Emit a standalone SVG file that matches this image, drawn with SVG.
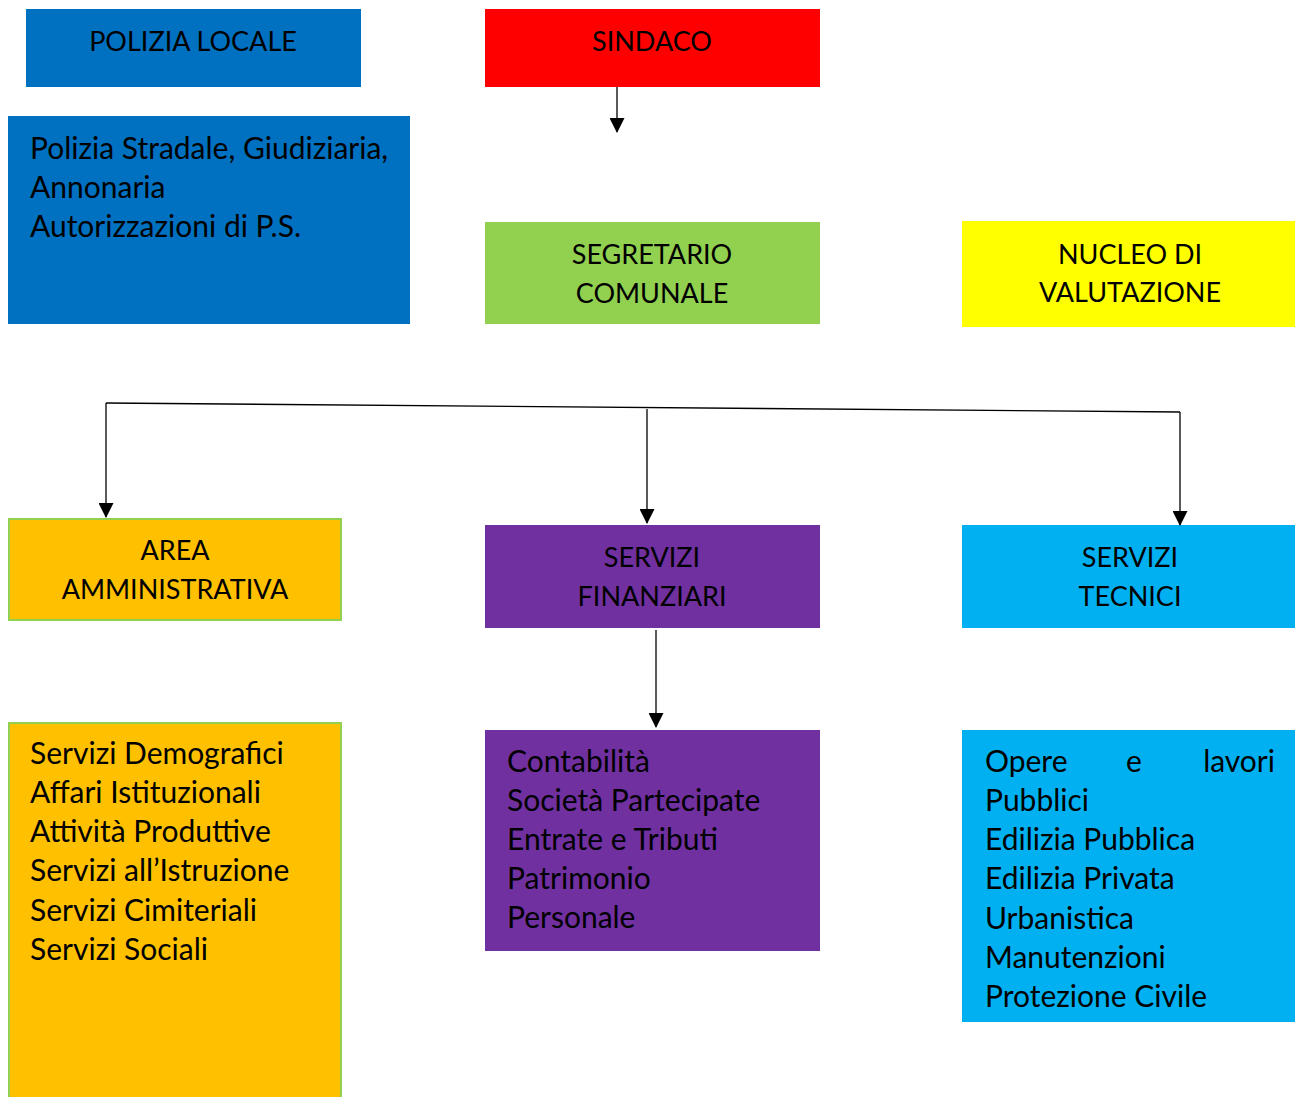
<svg xmlns="http://www.w3.org/2000/svg" width="1295" height="1097" viewBox="0 0 1295 1097">
<style>
text{font-family:Lato,"Open Sans","Liberation Sans",sans-serif;font-size:30px;fill:#000}
.c{text-anchor:middle;font-size:27px}
.ln{stroke:#000;stroke-width:1.3;fill:none}
</style>
<defs>
<marker id="arr" markerWidth="16" markerHeight="15" refX="14" refY="7.5" orient="auto" markerUnits="userSpaceOnUse">
<path d="M0,0 L15,7.5 L0,15 Z" fill="#000"/>
</marker>
</defs>
<rect width="1295" height="1097" fill="#fff"/>
<g id="polizia-locale">
<rect x="26" y="9" width="335" height="78" fill="#0070C0"/>
<text class="c" x="193" y="51">POLIZIA LOCALE</text>
</g>
<g id="polizia-servizi">
<rect x="8" y="116" width="402" height="208" fill="#0070C0"/>
<text x="30" y="159">Polizia Stradale, Giudiziaria,</text>
<text x="30" y="198">Annonaria</text>
<text x="30" y="237">Autorizzazioni di P.S.</text>
</g>
<g id="sindaco">
<rect x="485" y="9" width="335" height="78" fill="#FF0000"/>
<text class="c" x="652" y="51">SINDACO</text>
</g>
<g id="segretario">
<rect x="485" y="222" width="335" height="102" fill="#92D050"/>
<text class="c" x="652" y="264">SEGRETARIO</text>
<text class="c" x="652" y="303">COMUNALE</text>
</g>
<g id="nucleo">
<rect x="962" y="221" width="333" height="106" fill="#FFFF00"/>
<text class="c" x="1130" y="264">NUCLEO DI</text>
<text class="c" x="1130" y="302">VALUTAZIONE</text>
</g>
<g id="area-amministrativa">
<rect x="9" y="519" width="332" height="101" fill="#FFC000" stroke="#92D050" stroke-width="2"/>
<text class="c" x="175" y="560">AREA</text>
<text class="c" x="175" y="599">AMMINISTRATIVA</text>
</g>
<g id="servizi-finanziari">
<rect x="485" y="525" width="335" height="103" fill="#7030A0"/>
<text class="c" x="652" y="567">SERVIZI</text>
<text class="c" x="652" y="606">FINANZIARI</text>
</g>
<g id="servizi-tecnici">
<rect x="962" y="525" width="333" height="103" fill="#00B0F0"/>
<text class="c" x="1130" y="567">SERVIZI</text>
<text class="c" x="1130" y="606">TECNICI</text>
</g>
<g id="area-amministrativa-servizi">
<rect x="9" y="723" width="332" height="376" fill="#FFC000" stroke="#92D050" stroke-width="2"/>
<text x="30" y="764">Servizi Demografici</text>
<text x="30" y="803">Affari Istituzionali</text>
<text x="30" y="842">Attività Produttive</text>
<text x="30" y="881">Servizi all’Istruzione</text>
<text x="30" y="921">Servizi Cimiteriali</text>
<text x="30" y="960">Servizi Sociali</text>
</g>
<g id="servizi-finanziari-servizi">
<rect x="485" y="730" width="335" height="221" fill="#7030A0"/>
<text x="507" y="772">Contabilità</text>
<text x="507" y="811">Società Partecipate</text>
<text x="507" y="850">Entrate e Tributi</text>
<text x="507" y="889">Patrimonio</text>
<text x="507" y="928">Personale</text>
</g>
<g id="servizi-tecnici-servizi">
<rect x="962" y="730" width="333" height="292" fill="#00B0F0"/>
<text y="772"><tspan x="985">Opere</tspan><tspan x="1134" text-anchor="middle">e</tspan><tspan x="1275" text-anchor="end">lavori</tspan></text>
<text x="985" y="811">Pubblici</text>
<text x="985" y="850">Edilizia Pubblica</text>
<text x="985" y="889">Edilizia Privata</text>
<text x="985" y="929">Urbanistica</text>
<text x="985" y="968">Manutenzioni</text>
<text x="985" y="1007">Protezione Civile</text>
</g>
<g id="connectors">
<path class="ln" d="M617,87 V132" marker-end="url(#arr)"/>
<path class="ln" d="M106,403 L1180,412"/>
<path class="ln" d="M106,403 V517" marker-end="url(#arr)"/>
<path class="ln" d="M647,409 V523" marker-end="url(#arr)"/>
<path class="ln" d="M1180,412 V525" marker-end="url(#arr)"/>
<path class="ln" d="M656,630 V727" marker-end="url(#arr)"/>
</g>
</svg>
